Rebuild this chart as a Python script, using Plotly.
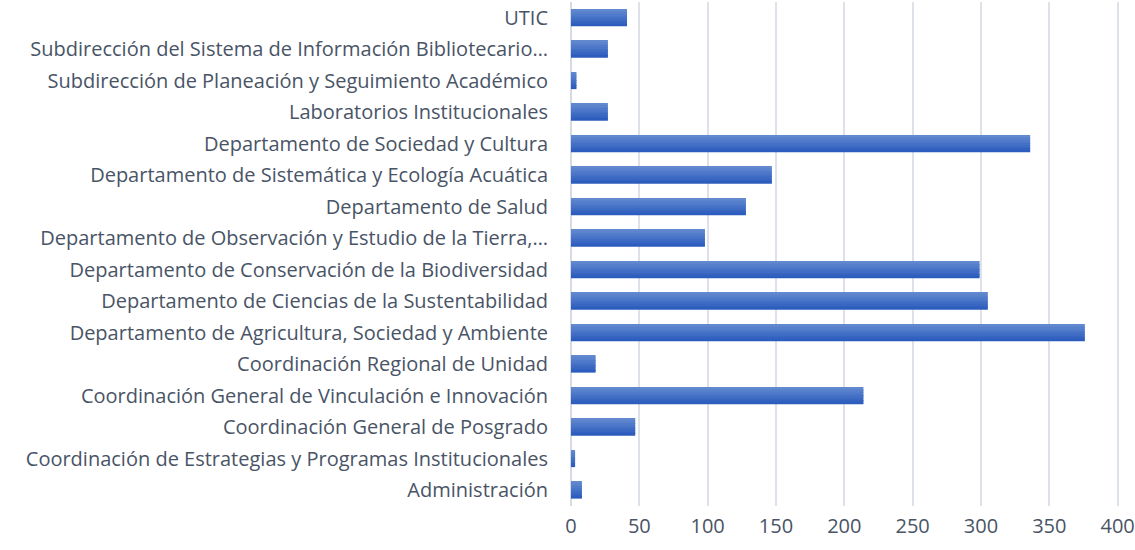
import plotly.graph_objects as go

categories = [
    "UTIC",
    "Subdirección del Sistema de Información Bibliotecario…",
    "Subdirección de Planeación y Seguimiento Académico",
    "Laboratorios Institucionales",
    "Departamento de Sociedad y Cultura",
    "Departamento de Sistemática y Ecología Acuática",
    "Departamento de Salud",
    "Departamento de Observación y Estudio de la Tierra,…",
    "Departamento de Conservación de la Biodiversidad",
    "Departamento de Ciencias de la Sustentabilidad",
    "Departamento de Agricultura, Sociedad y Ambiente",
    "Coordinación Regional de Unidad",
    "Coordinación General de Vinculación e Innovación",
    "Coordinación General de Posgrado",
    "Coordinación de Estrategias y Programas Institucionales",
    "Administración",
]
values = [41, 27, 4, 27, 336, 147, 128, 98, 299, 305, 376, 18, 214, 47, 3, 8]
x_ticks = [0, 50, 100, 150, 200, 250, 300, 350, 400]

fig = go.Figure()

# vertical gradient simulated by stacked bands (light top -> dark bottom)
top_rgb = (98, 137, 208)
bot_rgb = (44, 92, 189)
n_bands = 10
bar_w = 0.53
band = bar_w / n_bands
for k in range(n_bands):
    t = k / (n_bands - 1)
    c = tuple(round(top_rgb[j] + (bot_rgb[j] - top_rgb[j]) * t) for j in range(3))
    fig.add_trace(go.Bar(
        y=categories, x=values, orientation="h",
        width=band * 1.02, offset=-bar_w / 2 + k * band,
        marker=dict(color=f"rgb{c}", line=dict(width=0)),
        showlegend=False, hoverinfo="x+y" if k == 0 else "skip",
    ))

fig.update_layout(
    width=1135, height=550,
    margin=dict(l=571, r=16, t=2, b=44),
    paper_bgcolor="white", plot_bgcolor="white",
    barmode="overlay",
    font=dict(family="Open Sans, sans-serif", color="#495466"),
    xaxis=dict(
        range=[0, 401], tickvals=x_ticks, automargin=False,
        ticklabeloverflow="allow",
        showgrid=True, gridcolor="#dde1e8", gridwidth=1.5,
        zeroline=True, zerolinecolor="#d6dae2", zerolinewidth=1.5,
        showline=False, ticks="",
        tickfont=dict(size=20, color="#495466"),
        ticklabelstandoff=6,
    ),
    yaxis=dict(
        autorange="reversed", type="category", automargin=False,
        showgrid=False, zeroline=False, showline=False, ticks="",
        tickfont=dict(size=20, color="#495466"),
        ticklabelstandoff=22,
    ),
)

fig.write_html("out.html", config={"displayModeBar": False},
               post_script="document.body.style.margin='0';")
